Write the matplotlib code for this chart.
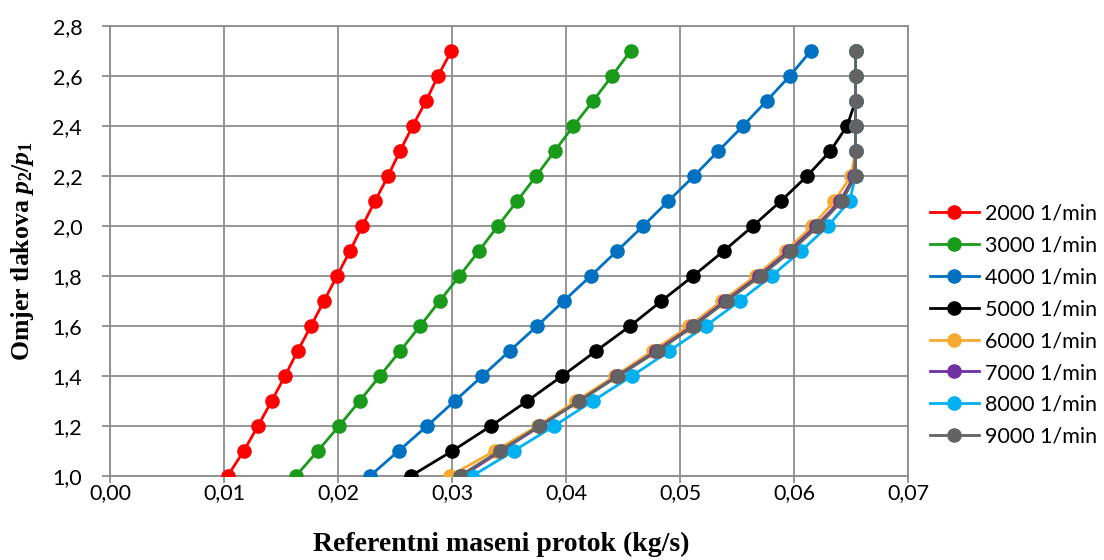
import matplotlib
matplotlib.use("Agg")
import matplotlib.pyplot as plt
import numpy as np

# ---- data ----
pressure_ratio = [1.0, 1.1, 1.2, 1.3, 1.4, 1.5, 1.6, 1.7, 1.8, 1.9,
                  2.0, 2.1, 2.2, 2.3, 2.4, 2.5, 2.6, 2.7]

flow_2000 = [0.01032, 0.01173, 0.01298, 0.01418, 0.01535, 0.01646, 0.01763, 0.01877, 0.01991,
             0.02105, 0.02213, 0.02325, 0.02439, 0.02544, 0.02655, 0.02772, 0.02877, 0.02994]
flow_3000 = [0.01630, 0.01822, 0.02009, 0.02190, 0.02367, 0.02545, 0.02720, 0.02892, 0.03065,
             0.03236, 0.03402, 0.03572, 0.03738, 0.03901, 0.04065, 0.04237, 0.04403, 0.04566]
flow_4000 = [0.02280, 0.02531, 0.02781, 0.03024, 0.03266, 0.03505, 0.03747, 0.03980, 0.04216,
             0.04447, 0.04677, 0.04898, 0.05123, 0.05336, 0.05552, 0.05759, 0.05963, 0.06147]
flow_5000 = [0.02639, 0.03002, 0.03341, 0.03660, 0.03966, 0.04263, 0.04563, 0.04837, 0.05115,
             0.05383, 0.05640, 0.05885, 0.06115, 0.06319, 0.06465, 0.06540, 0.06540, 0.06540]
flow_6000 = [0.02980, 0.03374, 0.03752, 0.04088, 0.04430, 0.04759, 0.05080, 0.05366, 0.05663,
             0.05926, 0.06162, 0.06354, 0.06500, 0.06540, 0.06540, 0.06540, 0.06540, 0.06540]
flow_7000 = [0.03090, 0.03430, 0.03775, 0.04115, 0.04450, 0.04790, 0.05110, 0.05395, 0.05690,
             0.05955, 0.06195, 0.06405, 0.06530, 0.06540, 0.06540, 0.06540, 0.06540, 0.06540]
flow_8000 = [0.03178, 0.03540, 0.03896, 0.04234, 0.04578, 0.04905, 0.05226, 0.05523, 0.05803,
             0.06062, 0.06298, 0.06488, 0.06540, 0.06540, 0.06540, 0.06540, 0.06540, 0.06540]
flow_9000 = [0.03067, 0.03417, 0.03767, 0.04117, 0.04458, 0.04803, 0.05123, 0.05409, 0.05707,
             0.05975, 0.06214, 0.06421, 0.06540, 0.06540, 0.06540, 0.06540, 0.06540, 0.06540]

series_labels = ["2000 1/min", "3000 1/min", "4000 1/min", "5000 1/min",
                 "6000 1/min", "7000 1/min", "8000 1/min", "9000 1/min"]
series_flows = [flow_2000, flow_3000, flow_4000, flow_5000,
                flow_6000, flow_7000, flow_8000, flow_9000]
series_colors = ["#FF0000", "#1A9A1A", "#0070C0", "#000000",
                 "#F6AA30", "#7030A0", "#00B0F0", "#636363"]

x_ticks = [0.00, 0.01, 0.02, 0.03, 0.04, 0.05, 0.06, 0.07]
y_ticks = [1.0, 1.2, 1.4, 1.6, 1.8, 2.0, 2.2, 2.4, 2.6, 2.8]

# ---- style ----
plt.rcParams["font.family"] = ["Lato", "DejaVu Sans"]
plt.rcParams["mathtext.fontset"] = "custom"
plt.rcParams["mathtext.rm"] = "Liberation Serif:bold"
plt.rcParams["mathtext.it"] = "Liberation Serif:italic:bold"
plt.rcParams["mathtext.bf"] = "Liberation Serif:bold"

fig = plt.figure(figsize=(11.04, 5.6), dpi=100)
ax = fig.add_axes([110 / 1104, 1 - 476 / 560, 798 / 1104, 450 / 560])

grid_col = "#8C8C8C"
for flows, lab, col in zip(series_flows, series_labels, series_colors):
    ax.plot(flows, pressure_ratio, "-o", color=col, label=lab,
            linewidth=2.0, markersize=9.5, zorder=3)

ax.set_xlim(0, 0.07)
ax.set_ylim(1.0, 2.8)
ax.set_xticks(x_ticks)
ax.set_yticks(y_ticks)
ax.set_xticklabels([f"{v:.2f}".replace(".", ",") for v in x_ticks])
ax.set_yticklabels([f"{v:.1f}".replace(".", ",") for v in y_ticks])
ax.grid(True, color=grid_col, linewidth=1.3, zorder=0)
ax.set_axisbelow(True)
for s in ax.spines.values():
    s.set_color(grid_col)
    s.set_linewidth(1.3)
ax.tick_params(axis="both", colors=grid_col, labelcolor="black",
               labelsize=15.5, width=1.3)
ax.tick_params(axis="x", pad=0, length=5)
ax.tick_params(axis="y", pad=14, length=6)
for lbl in ax.get_xticklabels() + ax.get_yticklabels():
    lbl.set_clip_on(False)

ax.set_xlabel("Referentni maseni protok (kg/s)", fontfamily="Liberation Serif",
              fontweight="bold", fontsize=20)
ax.xaxis.set_label_coords(0.49, -0.125)
ax.set_ylabel(r"Omjer tlakova $p_2/p_1$", fontfamily="Liberation Serif",
              fontweight="bold", fontsize=18.5, labelpad=12)

leg = ax.legend(loc="center left", bbox_to_anchor=(1.0, 0.335), frameon=False,
                fontsize=15.5, handlelength=2.3, handletextpad=0.3,
                labelspacing=0.55, borderaxespad=0.6)

fig.savefig("out.png", dpi=100)
